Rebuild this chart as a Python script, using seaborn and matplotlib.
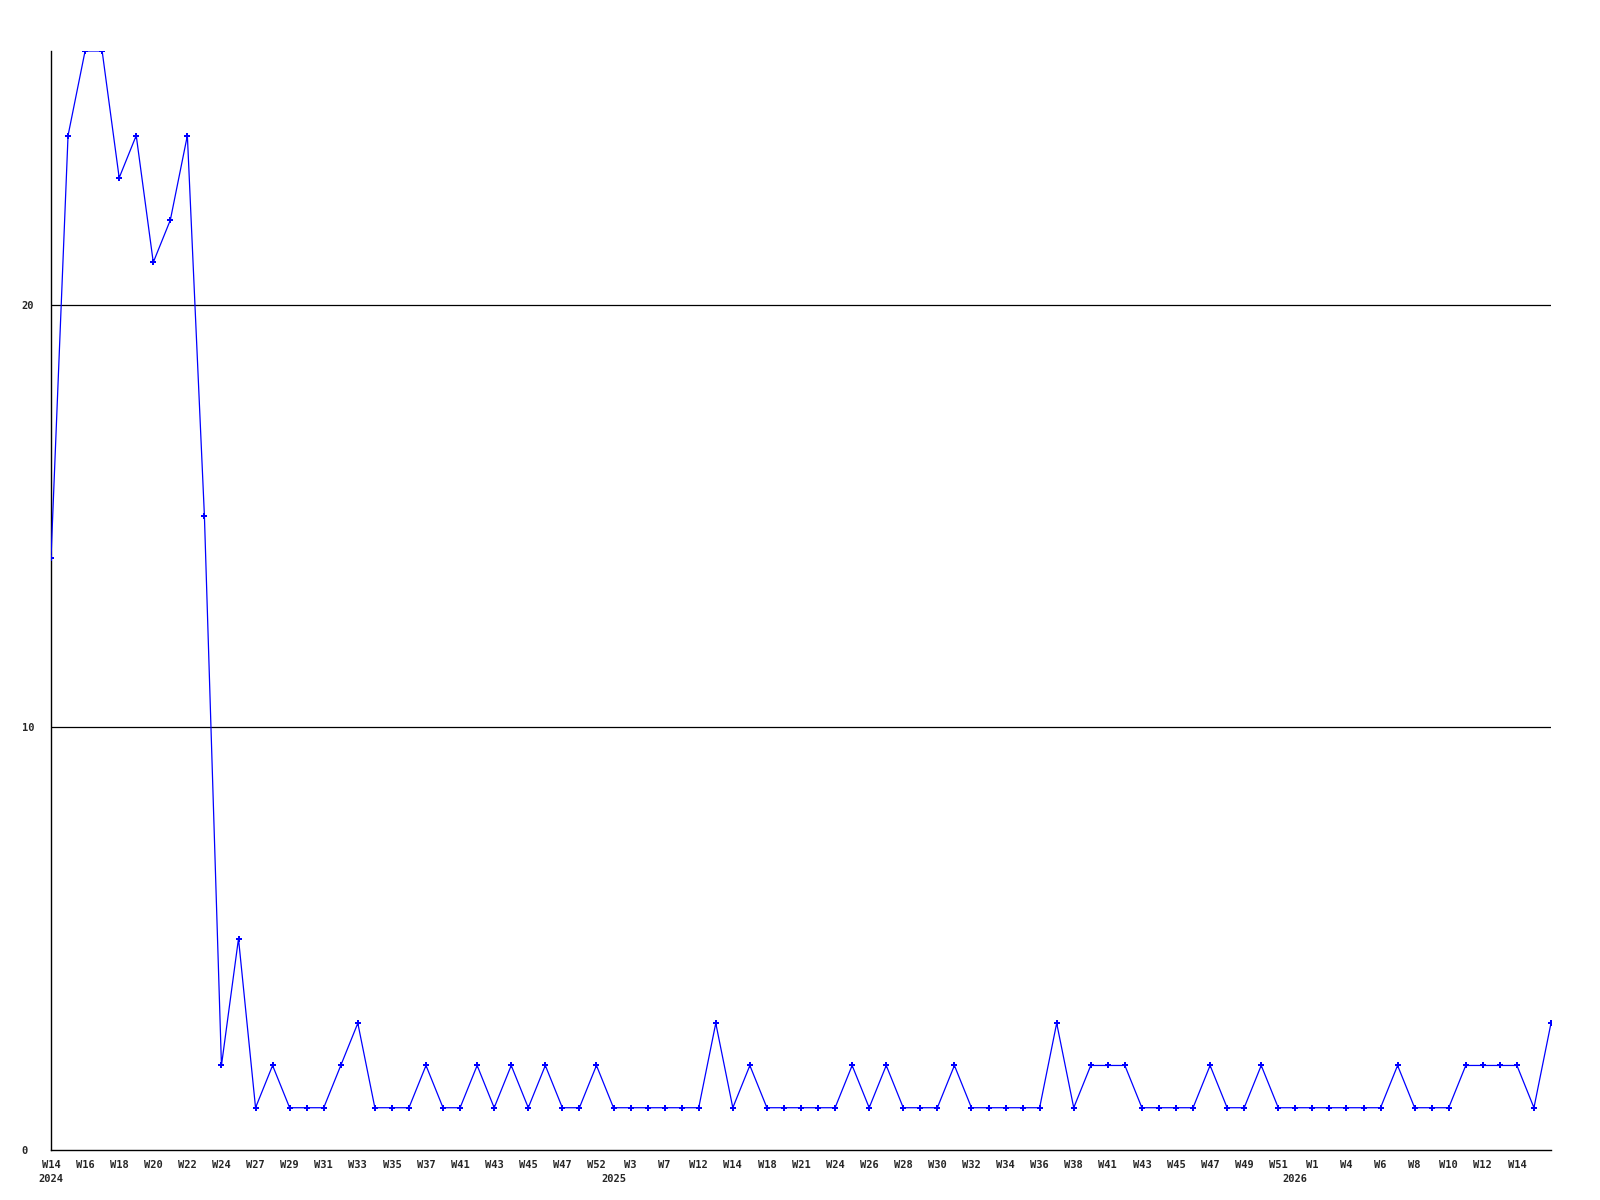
import matplotlib
matplotlib.use("Agg")
import matplotlib.pyplot as plt
import seaborn as sns
import pandas as pd

# ---- data -------------------------------------------------------------
weeks = [
    "W14", "W15", "W16", "W17", "W18", "W19", "W20", "W21", "W22", "W23",
    "W24", "W25", "W27", "W28", "W29", "W30", "W31", "W32", "W33", "W34",
    "W35", "W36", "W37", "W38", "W41", "W42", "W43", "W44", "W45", "W46",
    "W47", "W48", "W52", "W1", "W3", "W5", "W7", "W9", "W12", "W13",
    "W14", "W15", "W18", "W19", "W21", "W22", "W24", "W25", "W26", "W27",
    "W28", "W29", "W30", "W31", "W32", "W33", "W34", "W35", "W36", "W37",
    "W38", "W40", "W41", "W42", "W43", "W44", "W45", "W46", "W47", "W48",
    "W49", "W50", "W51", "W52", "W1", "W2", "W4", "W5", "W6", "W7",
    "W8", "W9", "W10", "W11", "W12", "W13", "W14", "W15", "W16",
]
counts = [
    14, 24, 26, 26, 23, 24, 21, 22, 24, 15,
    2, 5, 1, 2, 1, 1, 1, 2, 3, 1,
    1, 1, 2, 1, 1, 2, 1, 2, 1, 2,
    1, 1, 2, 1, 1, 1, 1, 1, 1, 3,
    1, 2, 1, 1, 1, 1, 1, 2, 1, 2,
    1, 1, 1, 2, 1, 1, 1, 1, 1, 3,
    1, 2, 2, 2, 1, 1, 1, 1, 2, 1,
    1, 2, 1, 1, 1, 1, 1, 1, 1, 2,
    1, 1, 1, 2, 2, 2, 2, 1, 3,
]
year_pos = [0, 33, 73]
year_labels = ["2024", "2025", "2026"]
y_ticks = [0, 10, 20]

# ---- plot -------------------------------------------------------------
sns.set_style("white")
plt.rcParams["font.family"] = ["DejaVu Sans Mono"]

df = pd.DataFrame({"idx": range(len(counts)), "count": counts})

fig = plt.figure(figsize=(16, 12), dpi=100)
ax = fig.add_axes([51 / 1600, 1 - 1150 / 1200, 1500 / 1600, 1099 / 1200])

for yv in y_ticks[1:]:
    ax.axhline(yv, color="black", lw=0.9, zorder=1)

sns.lineplot(data=df, x="idx", y="count", ax=ax, color="#0000ff",
             lw=0.9, marker="P", markersize=4.5, markeredgewidth=0,
             zorder=3)

ax.set_xlim(0, len(counts) - 1)
ax.set_ylim(0, 26)

# x tick labels: every other week
tick_pos = list(range(0, len(counts) - 1, 2))
ax.set_xticks(tick_pos)
ax.set_xticklabels([weeks[p] for p in tick_pos], fontsize=7.5,
                   fontweight="bold")
ax.tick_params(axis="x", length=0, pad=7)

# year labels on a second row
sec = ax.secondary_xaxis("bottom")
sec.set_xticks(year_pos)
sec.set_xticklabels(year_labels, fontsize=7.5, fontweight="bold")
sec.tick_params(axis="x", length=0, pad=17)
sec.spines["bottom"].set_visible(False)

ax.set_yticks(y_ticks)
ax.set_yticklabels([str(v) for v in y_ticks], fontsize=7.5, fontweight="bold")
for t in ax.get_yticklabels():
    t.set_horizontalalignment("left")
ax.tick_params(axis="y", length=0, pad=21)

ax.set_xlabel("")
ax.set_ylabel("")
for s in ["top", "right"]:
    ax.spines[s].set_visible(False)
for s in ["left", "bottom"]:
    ax.spines[s].set_color("black")
    ax.spines[s].set_linewidth(1.0)
ax.grid(False)

fig.savefig("out.png", dpi=100, facecolor="white")
